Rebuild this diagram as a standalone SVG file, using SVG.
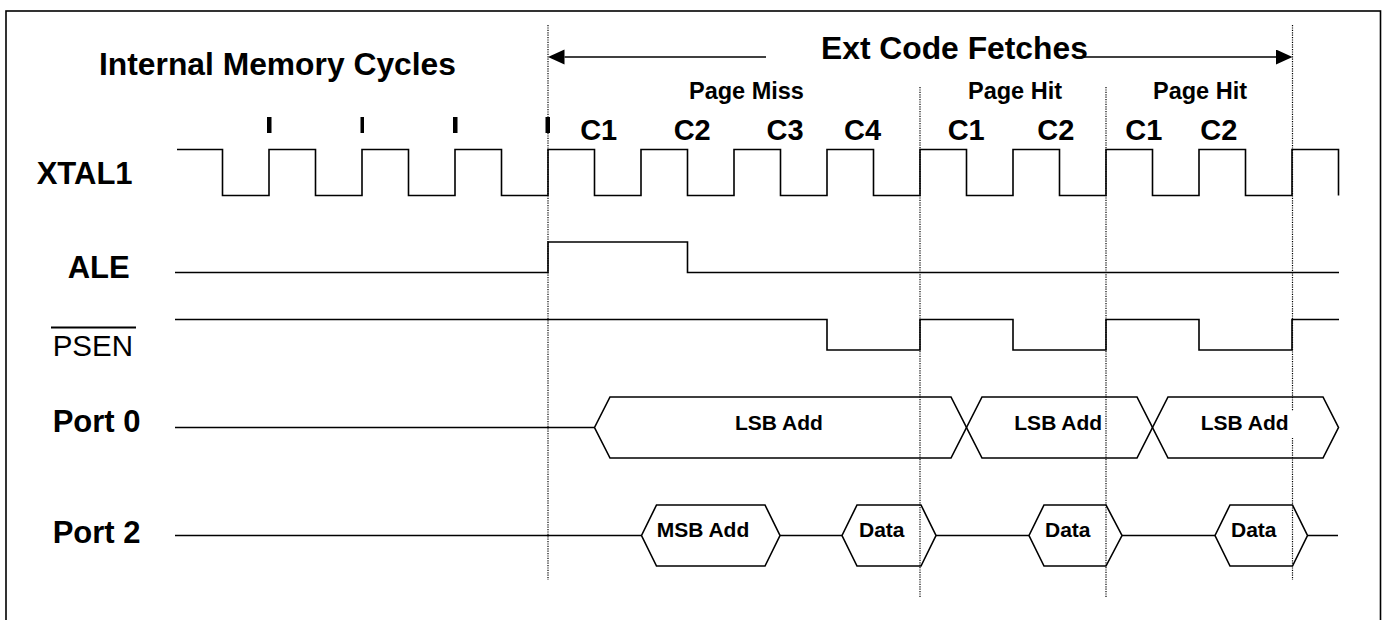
<svg xmlns="http://www.w3.org/2000/svg" width="1385" height="620" viewBox="0 0 1385 620">
<style>
.wave{fill:none;stroke:#000;stroke-width:1.6;stroke-linejoin:miter}
.hex{fill:none;stroke:#000;stroke-width:1.6}
.dot{fill:none;stroke:#000;stroke-width:1.2;stroke-dasharray:1.2 1.2}
.big{font-family:"Liberation Sans",Arial,sans-serif;font-weight:bold;font-size:31px;fill:#000}
.ttl{font-family:"Liberation Sans",Arial,sans-serif;font-weight:bold;font-size:31.8px;fill:#000}
.cyc{font-family:"Liberation Sans",Arial,sans-serif;font-weight:bold;font-size:29px;fill:#000}
.pg{font-family:"Liberation Sans",Arial,sans-serif;font-weight:bold;font-size:23.5px;fill:#000}
.hx{font-family:"Liberation Sans",Arial,sans-serif;font-weight:bold;font-size:21px;fill:#000}
.reg{font-family:"Liberation Sans",Arial,sans-serif;font-size:29.5px;fill:#000}
</style>
<defs>
<marker id="ah" markerUnits="userSpaceOnUse" markerWidth="18" markerHeight="16" refX="0" refY="7.5" orient="auto">
<path d="M0,0 L16.5,7.5 L0,15 z" fill="#000"/>
</marker>
</defs>
<rect x="0" y="0" width="1385" height="620" fill="#fff"/>
<rect x="6" y="11" width="1374.5" height="640" fill="none" stroke="#000" stroke-width="1.6"/>

<g id="titles">
<text class="ttl" x="99" y="75">Internal Memory Cycles</text>
<text class="ttl" x="821" y="59">Ext Code Fetches</text>
<text class="pg" x="689" y="99">Page Miss</text>
<text class="pg" x="968" y="99">Page Hit</text>
<text class="pg" x="1153" y="99">Page Hit</text>
</g>

<g id="cycles">
<text class="cyc" x="598.7" y="140" text-anchor="middle">C1</text>
<text class="cyc" x="692.2" y="140" text-anchor="middle">C2</text>
<text class="cyc" x="785" y="140" text-anchor="middle">C3</text>
<text class="cyc" x="862.5" y="140" text-anchor="middle">C4</text>
<text class="cyc" x="966.2" y="140" text-anchor="middle">C1</text>
<text class="cyc" x="1055.8" y="140" text-anchor="middle">C2</text>
<text class="cyc" x="1143.8" y="140" text-anchor="middle">C1</text>
<text class="cyc" x="1218.8" y="140" text-anchor="middle">C2</text>
</g>

<g id="ticks" fill="#000">
<rect x="267" y="117" width="4.5" height="16"/>
<rect x="360.5" y="117" width="3.5" height="16"/>
<rect x="453" y="117" width="4.5" height="16"/>
<rect x="545.5" y="117" width="4.5" height="16"/>
</g>

<g id="xtal1">
<text class="big" x="36.7" y="184.3">XTAL1</text>
<path class="wave" d="M177,149.5 H222.5 V195.5 H269 V149.5 H315.5 V195.5 H362 V149.5 H408.5 V195.5 H455 V149.5 H501.5 V195.5 H548 V149.5 H594.5 V195.5 H641 V149.5 H687.5 V195.5 H734 V149.5 H780.5 V195.5 H827 V149.5 H873.5 V195.5 H920 V149.5 H966.5 V195.5 H1013 V149.5 H1059.5 V195.5 H1106 V149.5 H1152.5 V195.5 H1199 V149.5 H1245.5 V195.5 H1292 V149.5 H1338.5 V195.5"/>
</g>

<g id="ale">
<text class="big" x="67.7" y="278.3">ALE</text>
<path class="wave" d="M175,272.5 H548 V242 H687.5 V272.5 H1339"/>
</g>

<g id="psen">
<text class="reg" x="52.7" y="356">PSEN</text>
<line x1="51" y1="327.5" x2="136" y2="327.5" stroke="#000" stroke-width="2"/>
<path class="wave" d="M175,319.5 H827 V350 H920 V319.5 H1013 V350 H1106 V319.5 H1199 V350 H1292 V319.5 H1339"/>
</g>

<g id="port0">
<text class="big" x="52.7" y="431.7">Port 0</text>
<path class="wave" d="M175,427.5 H594.5"/>
<polygon class="hex" points="594.5,427.5 610,397 951,397 966.5,427.5 951,458 610,458"/>
<polygon class="hex" points="966.5,427.5 982,397 1137,397 1152.5,427.5 1137,458 982,458"/>
<polygon class="hex" points="1152.5,427.5 1168,397 1323,397 1338.5,427.5 1323,458 1168,458"/>
<text class="hx" x="735" y="430">LSB Add</text>
<text class="hx" x="1014.3" y="430">LSB Add</text>
</g>

<g id="port2">
<text class="big" x="52.7" y="542.7">Port 2</text>
<path class="wave" d="M175,535.5 H641.5 M780,535.5 H842 M936,535.5 H1029 M1122,535.5 H1215 M1307.5,535.5 H1338"/>
<polygon class="hex" points="641.5,535.5 656.5,505 765,505 780,535.5 765,566 656.5,566"/>
<polygon class="hex" points="842,535.5 857,505 921,505 936,535.5 921,566 857,566"/>
<polygon class="hex" points="1029,535.5 1044,505 1106,505 1122,535.5 1106,566 1044,566"/>
<polygon class="hex" points="1215,535.5 1230,505 1292.5,505 1307.5,535.5 1292.5,566 1230,566"/>
<text class="hx" x="656.7" y="537">MSB Add</text>
<text class="hx" x="859" y="537">Data</text>
<text class="hx" x="1045" y="537">Data</text>
<text class="hx" x="1231" y="537">Data</text>
</g>

<g id="connectors">
<line class="dot" x1="548" y1="25" x2="548" y2="580"/>
<line class="dot" x1="920" y1="87" x2="920" y2="597"/>
<line class="dot" x1="1106" y1="87" x2="1106" y2="597"/>
<line class="dot" x1="1292.5" y1="25" x2="1292.5" y2="580"/>
<line x1="766" y1="57" x2="564.5" y2="57" stroke="#000" stroke-width="1.6" marker-end="url(#ah)"/>
<line x1="1083" y1="57" x2="1276" y2="57" stroke="#000" stroke-width="1.6" marker-end="url(#ah)"/>
</g>

<g id="port0-label3">
<rect x="1198" y="411" width="97" height="27" fill="#fff"/>
<text class="hx" x="1200.7" y="430">LSB Add</text>
</g>
</svg>
